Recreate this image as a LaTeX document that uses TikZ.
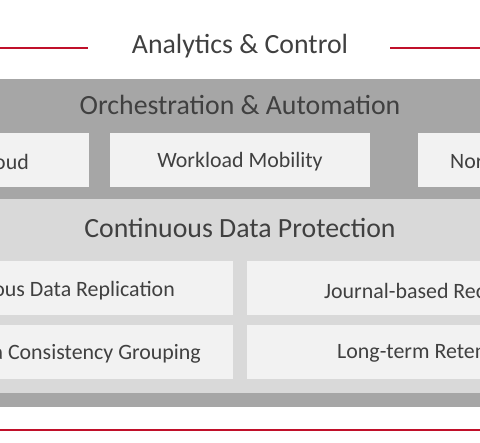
\documentclass[tikz,border=0pt]{standalone}
\usepackage{fontspec}
\setmainfont{Carlito}
\usepackage{xcolor}
\usetikzlibrary{positioning}

\definecolor{lineRed}{HTML}{C0102A}
\definecolor{bandGray}{HTML}{A6A6A6}
\definecolor{panelGray}{HTML}{D9D9D9}
\definecolor{boxGray}{HTML}{F2F2F2}
\definecolor{txtGray}{HTML}{404040}

\tikzset{
  heading/.style={text=txtGray, inner sep=0pt, font=\fontsize{27.8}{30}\selectfont},
  label/.style={text=txtGray, inner sep=0pt, font=\fontsize{21.9}{24}\selectfont},
  redrule/.style={draw=lineRed, line width=2pt}
}

\begin{document}
\begin{tikzpicture}[x=1pt,y=-1pt]
	\useasboundingbox (0,0) rectangle (480,443);
	\clip (0,0) rectangle (480,443);
	
	% title with red rules
	\node[heading] (title) at (240,46.5) {Analytics \& Control};
	\coordinate (ruleLa) at (0,48);
	\coordinate (ruleLb) at (88,48);
	\coordinate (ruleRa) at (390,48);
	\coordinate (ruleRb) at (480,48);
	\draw[redrule] (ruleLa)--(ruleLb);
	\draw[redrule] (ruleRa)--(ruleRb);
	
	% outer band and inner panel
	\fill[bandGray] (-10,79) rectangle (490,407);
	\fill[panelGray] (-10,199) rectangle (490,393);
	
	% orchestration row
	\node[heading] (orch) at (240,104.5) {Orchestration \& Automation};
	\fill[boxGray] (-10,133) rectangle (89,187);
	\fill[boxGray] (110,133) rectangle (370,187);
	\fill[boxGray] (418,133) rectangle (490,187);
	\node[label, anchor=east] (cloud) at (29,161.5) {oud};
	\node[label] (mobility) at (240,161.5) {Workload Mobility};
	\node[label, anchor=west] (non) at (450,161.5) {Nor};
	
	% data protection panel
	\node[heading] (cdp) at (240,228) {Continuous Data Protection};
	\fill[boxGray] (-10,261) rectangle (233,315);
	\fill[boxGray] (247,261) rectangle (490,315);
	\fill[boxGray] (-10,325) rectangle (233,379);
	\fill[boxGray] (247,325) rectangle (490,379);
	\node[label, anchor=east] (replication) at (175,290.5) {ous Data Replication};
	\node[label, anchor=west] (journal) at (324,290.5) {Journal-based Rec};
	\node[label, anchor=east] (grouping) at (201,353.5) {a Consistency Grouping};
	\node[label, anchor=west] (retention) at (337,353.5) {Long-term Reten};
	
	% bottom rule
	\coordinate (ruleBa) at (0,430);
	\coordinate (ruleBb) at (480,430);
	\draw[redrule] (ruleBa)--(ruleBb);
\end{tikzpicture}
\end{document}
